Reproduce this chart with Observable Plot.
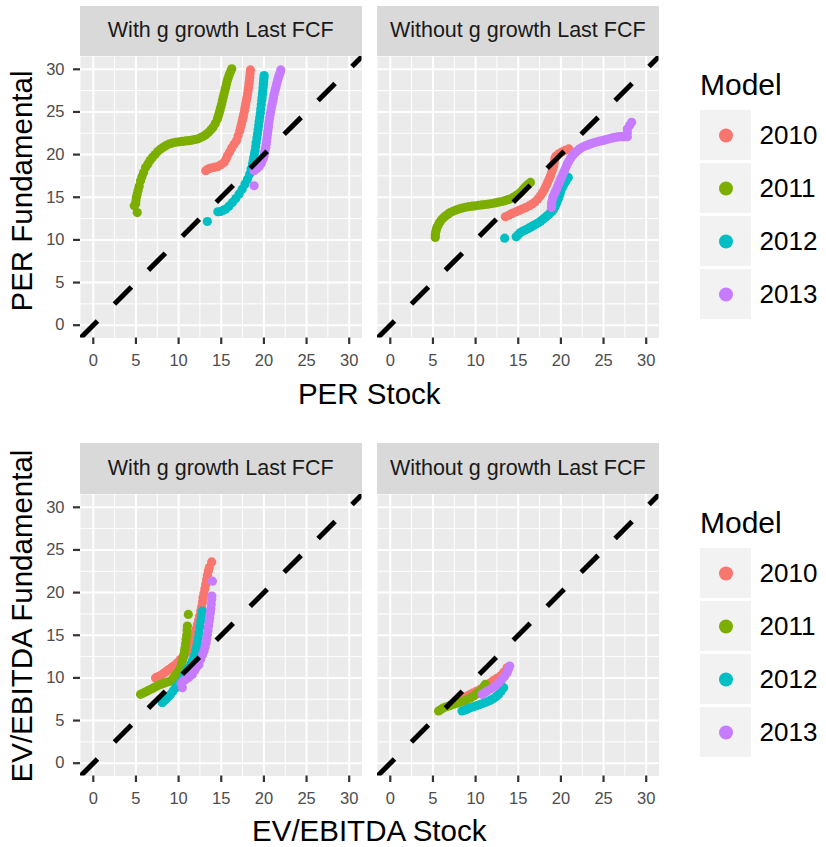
<!DOCTYPE html>
<html><head><meta charset="utf-8">
<script src="https://cdn.jsdelivr.net/npm/d3@7"></script>
<script src="https://cdn.jsdelivr.net/npm/@observablehq/plot@0.6"></script>
<style>
body{margin:0;background:#fff;}
#root{position:relative;width:826px;height:847px;font-family:"Liberation Sans",Arial,Helvetica,sans-serif;overflow:hidden;background:#fff;}
.box{position:absolute;}
.strip{position:absolute;background:#D9D9D9;color:#1A1A1A;font-size:21.5px;display:flex;align-items:center;justify-content:center;white-space:nowrap;}
.title{position:absolute;font-size:29.5px;line-height:1;color:#000;white-space:nowrap;}
</style></head><body><div id="root"></div>
<script>
const models = ["2010","2011","2012","2013"];
const colors = ["#F8766D","#7CAE00","#00BFC4","#C77CFF"];
const facetLabels = ["With g growth Last FCF","Without g growth Last FCF"];
const rowTitles = [["PER Fundamental","PER Stock"],["EV/EBITDA Fundamental","EV/EBITDA Stock"]];
const majorTicks = [0,5,10,15,20,25,30];
const minorTicks = [2.5,7.5,12.5,17.5,22.5,27.5];
const axisDomain = [-1.5,31.5];

// PER, with g growth
const perWith2010 = [[13.18,18.11],[13.45,18.3],[13.76,18.42],[14.15,18.5],[14.55,18.58],[14.95,18.8],[15.33,19.08],[15.55,19.45],[15.72,19.87],[15.98,20.3],[16.23,20.77],[16.5,21.2],[16.78,21.63],[16.98,22.2],[17.17,22.8],[17.27,23.2],[17.37,23.6],[17.47,24.0],[17.56,24.37],[17.64,24.75],[17.72,25.15],[17.8,25.55],[17.87,25.94],[17.94,26.3],[18.01,26.7],[18.08,27.1],[18.15,27.5],[18.2,27.9],[18.25,28.3],[18.3,28.7],[18.34,29.07],[18.38,29.5],[18.42,29.93]];
const perWith2011 = [[5.15,13.2],[4.8,14.0],[4.96,14.2],[5.0,14.6],[5.05,15.0],[5.15,15.37],[5.25,15.8],[5.38,16.3],[5.54,16.93],[5.7,17.4],[5.9,17.9],[6.13,18.5],[6.4,18.9],[6.65,19.3],[6.92,19.67],[7.25,20.0],[7.55,20.35],[7.89,20.65],[8.2,20.85],[8.5,21.05],[8.87,21.24],[9.25,21.35],[9.65,21.45],[10.04,21.5],[10.45,21.55],[10.85,21.6],[11.22,21.63],[11.6,21.7],[11.9,21.77],[12.2,21.83],[12.6,22.0],[12.9,22.15],[13.18,22.34],[13.5,22.6],[13.8,22.9],[14.04,23.2],[14.3,23.65],[14.55,24.18],[14.65,24.5],[14.75,24.85],[14.85,25.2],[14.94,25.55],[15.04,25.9],[15.13,26.3],[15.23,26.7],[15.33,27.1],[15.43,27.5],[15.52,27.9],[15.62,28.3],[15.72,28.68],[15.83,29.05],[15.95,29.4],[16.1,29.75],[16.23,30.05]];
const perWith2012 = [[13.37,12.16],[14.6,13.3],[14.94,13.33],[15.2,13.45],[15.53,13.61],[15.9,13.95],[16.31,14.39],[16.7,14.85],[17.09,15.37],[17.45,15.95],[17.79,16.55],[18.07,17.1],[18.34,17.72],[18.5,18.3],[18.66,18.9],[18.75,19.3],[18.82,19.7],[18.9,20.1],[18.97,20.46],[19.04,20.95],[19.1,21.45],[19.18,21.95],[19.25,22.42],[19.32,22.9],[19.38,23.4],[19.45,23.9],[19.52,24.37],[19.58,24.85],[19.63,25.35],[19.69,25.85],[19.75,26.33],[19.79,26.7],[19.83,27.1],[19.87,27.5],[19.91,27.9],[19.94,28.25],[19.97,28.6],[20.0,28.95],[20.03,29.27]];
const perWith2013 = [[18.85,16.35],[18.85,18.11],[19.15,18.35],[19.44,18.58],[19.7,19.0],[19.91,19.48],[20.0,19.8],[20.08,20.15],[20.15,20.5],[20.22,20.85],[20.27,21.2],[20.32,21.6],[20.37,22.0],[20.42,22.42],[20.47,22.8],[20.52,23.2],[20.56,23.6],[20.61,23.98],[20.68,24.35],[20.75,24.75],[20.82,25.15],[20.89,25.55],[20.97,25.9],[21.05,26.3],[21.12,26.7],[21.2,27.1],[21.3,27.5],[21.4,27.9],[21.5,28.3],[21.6,28.68],[21.7,29.0],[21.8,29.3],[21.9,29.6],[21.98,29.93]];

// PER, without g growth
const perWithout2010 = [[13.49,12.71],[13.9,12.9],[14.28,13.1],[14.7,13.28],[15.1,13.45],[15.46,13.61],[15.85,13.78],[16.25,13.98],[16.63,14.2],[16.95,14.45],[17.3,14.8],[17.6,15.17],[17.85,15.55],[18.07,15.95],[18.27,16.35],[18.45,16.75],[18.62,17.15],[18.78,17.52],[18.92,17.92],[19.05,18.3],[19.17,18.7],[19.22,19.1],[19.28,19.5],[19.4,19.8],[19.75,20.1],[20.1,20.3],[20.5,20.5],[20.93,20.66]];
const perWithout2011 = [[5.27,10.28],[5.28,10.6],[5.32,10.9],[5.4,11.2],[5.47,11.45],[5.6,11.7],[5.75,12.0],[5.9,12.22],[6.06,12.43],[6.3,12.65],[6.55,12.85],[6.8,13.05],[7.03,13.21],[7.35,13.36],[7.7,13.5],[8.05,13.62],[8.41,13.73],[8.8,13.82],[9.2,13.9],[9.6,13.95],[9.97,14.0],[10.35,14.05],[10.75,14.1],[11.15,14.15],[11.53,14.2],[11.9,14.26],[12.3,14.33],[12.7,14.42],[13.1,14.5],[13.45,14.6],[13.8,14.72],[14.1,14.82],[14.4,14.98],[14.7,15.15],[15.0,15.35],[15.26,15.56],[15.5,15.85],[15.7,16.05],[15.9,16.28],[16.15,16.5],[16.43,16.74]];
const perWithout2012 = [[13.41,10.2],[14.75,10.36],[15.0,10.6],[15.26,10.86],[15.5,11.0],[15.75,11.12],[16.0,11.25],[16.23,11.38],[16.5,11.52],[16.8,11.7],[17.1,11.86],[17.4,12.04],[17.65,12.22],[17.9,12.42],[18.15,12.62],[18.39,12.82],[18.6,13.0],[18.8,13.2],[19.0,13.4],[19.17,13.61],[19.3,13.9],[19.45,14.2],[19.55,14.5],[19.68,14.78],[19.78,15.08],[19.88,15.38],[19.97,15.68],[20.07,15.96],[20.17,16.18],[20.27,16.38],[20.36,16.55],[20.46,16.74],[20.56,16.9],[20.66,17.05],[20.76,17.2],[20.86,17.32]];
const perWithout2013 = [[18.9,13.8],[18.9,14.2],[18.95,14.5],[19.05,14.97],[19.18,15.27],[19.3,15.55],[19.45,15.85],[19.57,16.15],[19.7,16.5],[19.85,16.85],[20.0,17.2],[20.15,17.52],[20.3,17.86],[20.45,18.2],[20.6,18.55],[20.74,18.9],[20.92,19.2],[21.1,19.5],[21.3,19.8],[21.52,20.07],[21.75,20.3],[22.0,20.5],[22.25,20.7],[22.5,20.85],[22.8,21.0],[23.1,21.1],[23.4,21.22],[23.68,21.32],[23.95,21.42],[24.25,21.5],[24.55,21.57],[24.85,21.63],[25.15,21.72],[25.45,21.8],[25.75,21.88],[26.02,21.95],[26.25,22.0],[26.5,22.05],[26.75,22.08],[27.0,22.1],[27.2,22.1],[27.4,22.1],[27.6,22.1],[27.79,22.1],[27.79,22.55],[27.79,23.0],[28.05,23.4],[28.29,23.78]];

// EV/EBITDA, with g growth
const evWith2010 = [[7.3,10.0],[7.6,10.15],[7.9,10.3],[8.2,10.5],[8.48,10.7],[8.8,10.95],[9.15,11.2],[9.5,11.45],[9.85,11.77],[10.2,12.15],[10.55,12.55],[10.8,12.85],[11.03,13.14],[11.25,13.6],[11.45,14.1],[11.62,14.4],[11.8,14.7],[11.95,15.2],[12.08,15.75],[12.2,16.27],[12.35,16.8],[12.47,17.3],[12.59,17.83],[12.7,18.35],[12.8,18.9],[12.86,19.39],[12.97,19.9],[13.08,20.45],[13.18,20.96],[13.28,21.5],[13.38,22.0],[13.49,22.52],[13.6,22.95],[13.88,23.6]];
const evWith2011 = [[5.54,8.07],[5.8,8.2],[6.1,8.35],[6.4,8.5],[6.72,8.66],[7.0,8.8],[7.3,8.95],[7.6,9.1],[7.89,9.24],[8.2,9.35],[8.5,9.45],[8.8,9.55],[9.07,9.63],[9.3,9.85],[9.45,10.1],[9.65,10.35],[9.9,10.65],[10.1,10.95],[10.24,11.19],[10.35,11.6],[10.45,12.0],[10.55,12.4],[10.63,12.76],[10.7,13.2],[10.78,13.6],[10.83,14.0],[10.88,14.5],[10.95,15.0],[11.0,15.6],[11.03,16.07],[11.14,17.44]];
const evWith2012 = [[8.09,7.09],[8.35,7.35],[8.6,7.6],[8.85,7.85],[9.07,8.07],[9.35,8.45],[9.6,8.8],[9.85,9.05],[10.04,9.24],[10.3,9.6],[10.63,10.22],[10.85,10.7],[11.1,11.1],[11.42,11.58],[11.6,12.0],[11.8,12.55],[12.0,13.14],[12.1,13.6],[12.2,14.1],[12.32,14.7],[12.4,15.3],[12.5,16.0],[12.59,16.66],[12.68,17.2],[12.79,17.83]];
const evWith2013 = [[10.44,8.85],[10.3,9.35],[10.5,9.6],[10.8,9.78],[11.2,10.05],[11.61,10.41],[11.9,10.9],[12.15,11.3],[12.39,11.58],[12.6,12.2],[12.8,12.7],[12.98,13.14],[13.1,13.6],[13.22,14.1],[13.3,14.6],[13.37,15.1],[13.45,15.6],[13.52,16.1],[13.58,16.6],[13.65,17.05],[13.72,17.6],[13.78,18.1],[13.83,18.6],[13.88,19.2],[13.9,19.6],[13.96,21.34]];

// EV/EBITDA, without g growth
const evWithout2010 = [[8.21,7.48],[8.6,7.68],[9.0,7.88],[9.38,8.07],[9.75,8.25],[10.15,8.45],[10.55,8.66],[10.95,8.9],[11.35,9.15],[11.73,9.43],[12.1,9.7],[12.5,9.95],[12.91,10.22],[13.3,10.65],[13.69,11.19]];
const evWithout2011 = [[5.66,6.12],[5.95,6.3],[6.25,6.5],[6.6,6.62],[7.0,6.75],[7.42,6.9],[7.8,7.02],[8.2,7.15],[8.6,7.29],[9.0,7.45],[9.4,7.65],[9.77,7.87],[10.1,8.1],[10.45,8.4],[10.76,8.66],[10.95,8.95],[11.14,9.24]];
const evWithout2012 = [[8.41,6.12],[8.8,6.25],[9.1,6.38],[9.38,6.5],[9.75,6.62],[10.15,6.75],[10.56,6.9],[10.95,7.05],[11.35,7.2],[11.73,7.37],[12.05,7.55],[12.4,7.8],[12.71,8.07],[13.0,8.45],[13.29,8.85]];
const evWithout2013 = [[10.76,8.07],[11.05,8.25],[11.34,8.46],[11.8,8.72],[12.32,9.04],[12.7,9.4],[13.1,9.83],[13.4,10.2],[13.69,10.6],[13.85,11.0],[14.0,11.39]];

const panelSeries = [
  [[perWith2010,perWith2011,perWith2012,perWith2013],[perWithout2010,perWithout2011,perWithout2012,perWithout2013]],
  [[evWith2010,evWith2011,evWith2012,evWith2013],[evWithout2010,evWithout2011,evWithout2012,evWithout2013]]
];

const FONT = '"Liberation Sans",Arial,Helvetica,sans-serif';
const root = document.getElementById("root");
const panelW = 281.5, panelH = 281.5;
const colLeft = [80, 377];
const rowTop = [56, 493.5];
const stripH = 50.5;
const abline = axisDomain.map(v => ({x: v, y: v}));

function toRows(seriesList) {
  const rows = [];
  seriesList.forEach((s, i) => s.forEach(([x, y]) => rows.push({model: models[i], x, y})));
  return rows;
}

function place(el, left, top) {
  const d = document.createElement("div");
  d.className = "box";
  d.style.left = left + "px";
  d.style.top = top + "px";
  d.appendChild(el);
  root.appendChild(d);
  return d;
}

function panel(row, col) {
  const showY = col === 0;
  const mL = showY ? 80 : 3;
  const mR = 4, mB = 48;
  const data = toRows(panelSeries[row][col]);
  const svg = Plot.plot({
    width: mL + panelW + mR,
    height: panelH + mB,
    marginLeft: mL, marginRight: mR, marginTop: 0, marginBottom: mB,
    style: {fontFamily: FONT, fontSize: "16.5px", background: "transparent", overflow: "visible"},
    x: {domain: axisDomain, axis: null},
    y: {domain: axisDomain, axis: null},
    color: {domain: models, range: colors},
    marks: [
      Plot.frame({fill: "#EBEBEB", stroke: null}),
      Plot.gridX(minorTicks, {stroke: "white", strokeOpacity: 1, strokeWidth: 1}),
      Plot.gridY(minorTicks, {stroke: "white", strokeOpacity: 1, strokeWidth: 1}),
      Plot.gridX(majorTicks, {stroke: "white", strokeOpacity: 1, strokeWidth: 2}),
      Plot.gridY(majorTicks, {stroke: "white", strokeOpacity: 1, strokeWidth: 2}),
      Plot.dot(data, {x: "x", y: "y", fill: "model", r: 4.6}),
      Plot.line(abline, {x: "x", y: "y", stroke: "black", strokeWidth: 5, strokeDasharray: "24,24", strokeLinecap: "butt", clip: true}),
      Plot.axisX(majorTicks, {tickSize: 6.5, tickPadding: 10, stroke: "#333333", strokeWidth: 2.2, fill: "#4D4D4D", label: null}),
      showY ? Plot.axisY(majorTicks, {tickSize: 7, tickPadding: 9, stroke: "#333333", strokeWidth: 2.2, fill: "#4D4D4D", label: null}) : null
    ]
  });
  place(svg, colLeft[col] - mL, rowTop[row]);
  const s = document.createElement("div");
  s.className = "strip";
  s.style.left = colLeft[col] + "px";
  s.style.top = (rowTop[row] - stripH) + "px";
  s.style.width = panelW + "px";
  s.style.height = stripH + "px";
  s.textContent = facetLabels[col];
  root.appendChild(s);
}

function legend(top) {
  const t = document.createElement("div");
  t.className = "title";
  t.style.fontSize = "30px";
  t.style.left = "700px";
  t.style.top = (top - 39) + "px";
  t.textContent = "Model";
  root.appendChild(t);
  const svg = Plot.plot({
    width: 126, height: 210, margin: 0,
    style: {fontFamily: FONT, background: "transparent", overflow: "visible"},
    x: {type: "band", domain: ["key", "label"], range: [0, 102], padding: 0, axis: null},
    y: {type: "band", domain: models, paddingInner: 0.064, paddingOuter: 0, axis: null},
    color: {domain: models, range: colors},
    marks: [
      Plot.cell(models, {x: () => "key", y: d => d, fill: "#F2F2F2"}),
      Plot.dot(models, {x: () => "key", y: d => d, fill: d => d, r: 7}),
      Plot.text(models, {x: () => "label", y: d => d, text: d => d, textAnchor: "start", dx: -17.5, fontSize: 26, fill: "black"})
    ]
  });
  place(svg, 700, top);
}

function titles(row) {
  const [yt, xt] = rowTitles[row];
  const x = document.createElement("div");
  x.className = "title";
  x.style.left = ((colLeft[0] + colLeft[1] + panelW) / 2) + "px";
  x.style.top = (row === 0 ? 378.5 : 816) + "px";
  x.style.transform = "translateX(-50%)";
  x.textContent = xt;
  root.appendChild(x);
  const y = document.createElement("div");
  y.className = "title";
  y.style.left = "22px";
  y.style.top = (row === 0 ? 191 : 616) + "px";
  y.style.transform = "translate(-50%,-50%) rotate(-90deg)";
  y.textContent = yt;
  root.appendChild(y);
}

for (let r = 0; r < 2; r++) {
  for (let c = 0; c < 2; c++) panel(r, c);
  titles(r);
}
legend(109.3);
legend(547);
</script></body></html>
